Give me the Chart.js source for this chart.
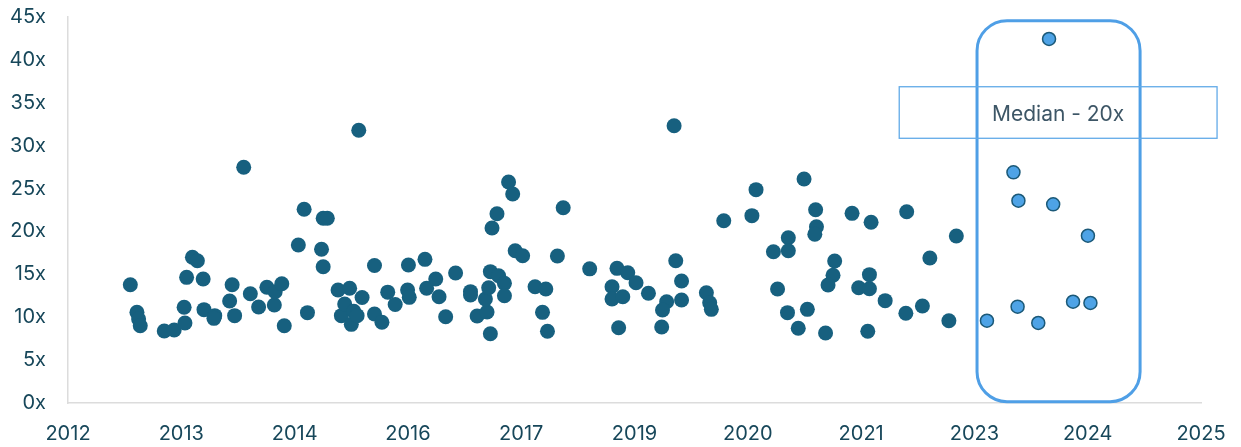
<!DOCTYPE html>
<html>
<head>
<meta charset="utf-8">
<script src="https://cdn.jsdelivr.net/npm/chart.js@4/dist/chart.umd.min.js"></script>
<style>
  html, body { margin: 0; padding: 0; background: #fff; }
  #wrap { width: 1241px; height: 447px; position: relative; }
</style>
</head>
<body>
<div id="wrap"><canvas id="graficoMultiplos"></canvas></div>
<script>
// ================================
// DADOS — multiplos por data (anos decimais)
// ================================
const dealYears = [
  2013.00, 2013.08, 2013.10, 2013.12, 2013.41, 2013.53, 2013.65, 2013.66, 2013.68, 2013.75,
  2013.81, 2013.88, 2013.89, 2014.02, 2014.01, 2014.20, 2014.23, 2014.26, 2014.37, 2014.45,
  2014.55, 2014.65, 2014.74, 2014.75, 2014.83, 2014.86, 2015.03, 2015.10, 2015.14, 2015.31,
  2015.33, 2015.38, 2015.33, 2015.51, 2015.55, 2015.59, 2015.65, 2015.67, 2015.70, 2015.74,
  2015.76, 2015.80, 2015.95, 2015.95, 2016.04, 2016.11, 2016.20, 2016.36, 2016.35, 2016.37,
  2016.56, 2016.58, 2016.69, 2016.73, 2016.81, 2016.93, 2017.11, 2017.11, 2017.19, 2017.31,
  2017.29, 2017.33, 2017.35, 2017.45, 2017.52, 2017.52, 2017.35, 2017.37, 2017.43, 2017.57,
  2017.62, 2017.65, 2017.74, 2017.89, 2018.02, 2017.98, 2018.04, 2018.16, 2018.23, 2018.55,
  2018.88, 2019.01, 2019.11, 2018.82, 2018.82, 2018.95, 2019.26, 2018.90, 2019.57, 2019.59,
  2019.66, 2019.48, 2019.43, 2019.66, 2019.42, 2019.96, 2020.00, 2020.02, 2020.17, 2020.51,
  2020.56, 2021.14, 2021.28, 2021.29, 2021.27, 2020.95, 2020.95, 2020.77, 2021.72, 2021.95,
  2021.51, 2021.49, 2021.43, 2021.93, 2021.80, 2021.93, 2020.82, 2022.12, 2020.94, 2021.18,
  2021.07, 2021.40, 2021.91, 2022.38, 2022.98, 2022.66, 2022.37, 2022.57, 2022.89
];
const dealMultiples = [
  13.79, 10.57, 9.79, 9.01, 8.39, 8.51, 11.16, 9.33, 14.65, 16.99,
  16.59, 14.46, 10.88, 10.18, 9.87, 11.89, 13.79, 10.18, 27.48, 12.74,
  11.19, 13.49, 11.42, 12.98, 13.91, 9.01, 18.42, 22.58, 10.53, 17.92,
  21.53, 21.53, 15.89, 13.17, 10.18, 11.54, 13.37, 9.17, 10.69, 10.18,
  31.79, 12.30, 16.03, 10.38, 9.41, 12.92, 11.48, 16.09, 13.17, 12.32,
  16.75, 13.37, 14.46, 12.39, 10.06, 15.16, 12.98, 12.59, 10.14, 10.61,
  12.12, 13.44, 15.31, 14.84, 13.95, 12.51, 8.08, 20.40, 22.07, 25.76,
  24.36, 17.75, 17.17, 13.56, 13.29, 10.57, 8.36, 17.14, 22.77, 15.64,
  15.70, 15.19, 14.02, 13.56, 12.12, 12.39, 12.79, 8.78, 32.33, 16.59,
  14.22, 11.81, 10.84, 12.01, 8.86, 12.86, 11.69, 10.92, 21.25, 21.84,
  24.87, 26.11, 22.53, 20.55, 19.67, 19.27, 17.75, 17.64, 22.11, 21.07,
  16.55, 14.89, 13.76, 14.96, 13.44, 13.32, 13.29, 11.93, 10.53, 10.92,
  8.71, 8.16, 8.36, 22.30, 19.47, 16.90, 10.46, 11.31, 9.59
];

// destaque 2023-2024
const recentYears = [2024.10, 2023.67, 2023.73, 2024.15, 2024.57, 2023.35, 2023.72, 2023.97, 2024.39, 2024.60];
const recentMultiples = [42.44, 26.89, 23.58, 23.16, 19.50, 9.59, 11.23, 9.33, 11.81, 11.66];

// eixo X: um tick a cada 500 dias (como no Excel)
const xTickYears = [2012.247, 2013.616, 2014.985, 2016.354, 2017.723, 2019.092, 2020.461, 2021.830, 2023.198, 2024.567, 2025.936];
const xTickLabels = ["2012", "2013", "2014", "2016", "2017", "2019", "2020", "2021", "2023", "2024", "2025"];
const yTicks = [0, 5, 10, 15, 20, 25, 30, 35, 40, 45];

// anotacoes (em unidades dos eixos)
const destaque = { xMin: 2023.23, xMax: 2025.20, yMin: 0.15, yMax: 44.57, raio: 30 };
const caixaMediana = { xMin: 2022.29, xMax: 2026.13, yMin: 30.86, yMax: 36.87, texto: "Median - 20x" };

const corTexto = "#17475a";
const fonte = "Inter, 'DejaVu Sans', sans-serif";

function pontos(xs, ys) {
  return xs.map((x, i) => ({ x: x, y: ys[i] }));
}

// plugin simples para desenhar a caixa arredondada e o rotulo da mediana
const anotacoes = {
  id: "anotacoes",
  afterDatasetsDraw(chart) {
    const { ctx, scales } = chart;
    const x = scales.x, y = scales.y;

    ctx.save();
    const l = x.getPixelForValue(destaque.xMin), r = x.getPixelForValue(destaque.xMax);
    const t = y.getPixelForValue(destaque.yMax), b = y.getPixelForValue(destaque.yMin);
    ctx.beginPath();
    ctx.roundRect(l, t, r - l, b - t, destaque.raio);
    ctx.lineWidth = 3;
    ctx.strokeStyle = "#4f9fe6";
    ctx.stroke();

    const ml = x.getPixelForValue(caixaMediana.xMin), mr = x.getPixelForValue(caixaMediana.xMax);
    const mt = y.getPixelForValue(caixaMediana.yMax), mb = y.getPixelForValue(caixaMediana.yMin);
    ctx.lineWidth = 1.3;
    ctx.strokeStyle = "#62aae8";
    ctx.strokeRect(ml, mt, mr - ml, mb - mt);

    ctx.fillStyle = "#3d5666";
    ctx.font = "21px " + fonte;
    ctx.textAlign = "center";
    ctx.textBaseline = "middle";
    ctx.fillText(caixaMediana.texto, (ml + mr) / 2, (mt + mb) / 2 + 2);
    ctx.restore();
  }
};

document.addEventListener("DOMContentLoaded", () => {
  const ctx = document.getElementById("graficoMultiplos");
  new Chart(ctx, {
    type: "scatter",
    data: {
      datasets: [
        {
          label: "Deals",
          data: pontos(dealYears, dealMultiples),
          backgroundColor: "#17607f",
          borderColor: "#17607f",
          borderWidth: 0,
          pointRadius: 7.5,
          pointHoverRadius: 7.5,
        },
        {
          label: "2023-2024",
          data: pontos(recentYears, recentMultiples),
          backgroundColor: "#4ea3e6",
          borderColor: "#1b5978",
          borderWidth: 1.5,
          pointRadius: 6.5,
          pointHoverRadius: 6.5,
        },
      ],
    },
    options: {
      responsive: true,
      maintainAspectRatio: false,
      animation: false,
      layout: { padding: { top: 17, right: 40, left: 0, bottom: 0 } },
      plugins: { legend: { display: false }, tooltip: { enabled: false } },
      scales: {
        x: {
          type: "linear",
          min: xTickYears[0],
          max: xTickYears[xTickYears.length - 1],
          afterBuildTicks: (s) => { s.ticks = xTickYears.map(v => ({ value: v })); },
          afterFit: (s) => { s.height = 44; s.paddingLeft = 0; s.paddingRight = 0; },
          grid: { display: false, drawTicks: false },
          border: { display: true, color: "#dcdcdc", width: 1.5 },
          ticks: {
            autoSkip: false,
            maxRotation: 0,
            padding: 19,
            color: corTexto,
            font: { family: fonte, size: 20 },
            callback: (v) => xTickLabels[xTickYears.indexOf(v)] ?? "",
          },
        },
        y: {
          min: 0,
          max: 45,
          afterBuildTicks: (s) => { s.ticks = yTicks.map(v => ({ value: v })); },
          // largura fixa e sem o padding extra em cima/embaixo
          afterFit: (s) => { s.width = 68; s.paddingTop = 10; s.paddingBottom = 10; },
          grid: { display: false, drawTicks: false },
          border: { display: true, color: "#dcdcdc", width: 1.5 },
          ticks: {
            padding: 22,
            color: corTexto,
            font: { family: fonte, size: 20 },
            callback: (v) => v + "x",
          },
        },
      },
    },
    plugins: [anotacoes],
  });
});
</script>
</body>
</html>
